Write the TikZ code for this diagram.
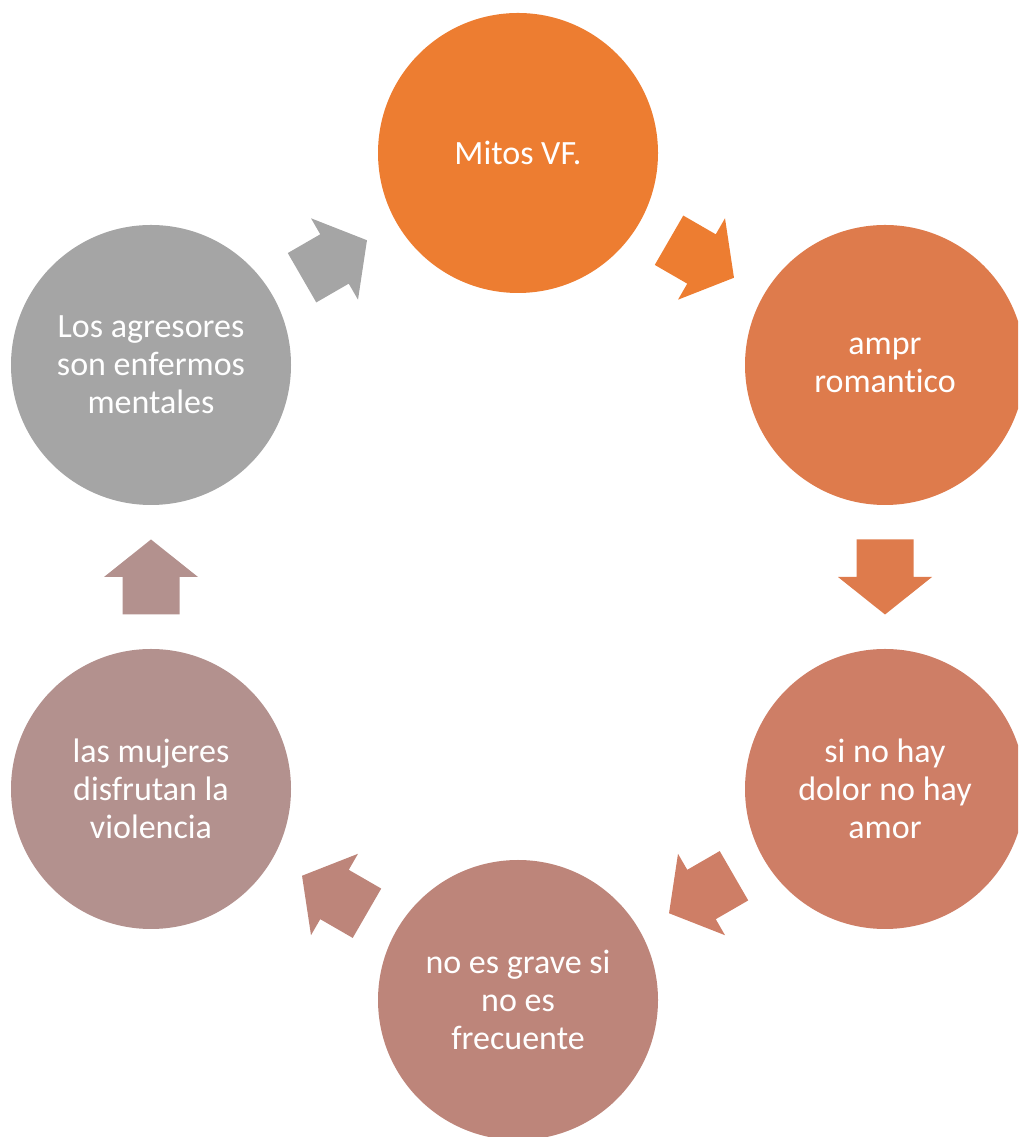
\documentclass[tikz,border=0pt]{standalone}
\usepackage{fontspec}
\setmainfont{Carlito}[Ligatures=NoCommon]
\usetikzlibrary{calc}
\definecolor{cA}{HTML}{ED7D31}
\definecolor{cB}{HTML}{DE7B4C}
\definecolor{cC}{HTML}{CE7E66}
\definecolor{cD}{HTML}{BD857A}
\definecolor{cE}{HTML}{B3918E}
\definecolor{cF}{HTML}{A5A5A5}
\newcommand\blockarrow[3]{%
  \fill[#3, shift={(#1)}, rotate=#2]
    (-37.5,-28.5) -- (0,-28.5) -- (0,-47) -- (37.5,0) -- (0,47) -- (0,28.5) -- (-37.5,28.5) -- cycle;}
\begin{document}
\begin{tikzpicture}[x=1pt,y=1pt,
  mito/.style={circle, minimum size=280pt, inner sep=0pt, text=white, align=center,
    font=\fontsize{34}{38}\selectfont}]
\clip (0,0) rectangle (1018,1137);
\node[mito, fill=cA] (c1) at (518,984) {Mitos VF.};
\node[mito, fill=cB] (c2) at (885,772) {ampr\\romantico};
\node[mito, fill=cC] (c3) at (885,348) {si no hay\\dolor no hay\\amor};
\node[mito, fill=cD] (c4) at (518,137) {no es grave si\\no es\\frecuente};
\node[mito, fill=cE] (c5) at (151,348) {las mujeres\\disfrutan la\\violencia};
\node[mito, fill=cF] (c6) at (151,772) {Los agresores\\son enfermos\\mentales};
\coordinate (a12) at ($(c1)!0.5!(c2)$);
\coordinate (a23) at ($(c2)!0.5!(c3)$);
\coordinate (a34) at ($(c3)!0.5!(c4)$);
\coordinate (a45) at ($(c4)!0.5!(c5)$);
\coordinate (a56) at ($(c5)!0.5!(c6)$);
\coordinate (a61) at ($(c6)!0.5!(c1)$);
\blockarrow{a12}{-30}{cA}
\blockarrow{a23}{-90}{cB}
\blockarrow{a34}{-150}{cC}
\blockarrow{a45}{150}{cD}
\blockarrow{a56}{90}{cE}
\blockarrow{a61}{30}{cF}
\end{tikzpicture}
\end{document}
